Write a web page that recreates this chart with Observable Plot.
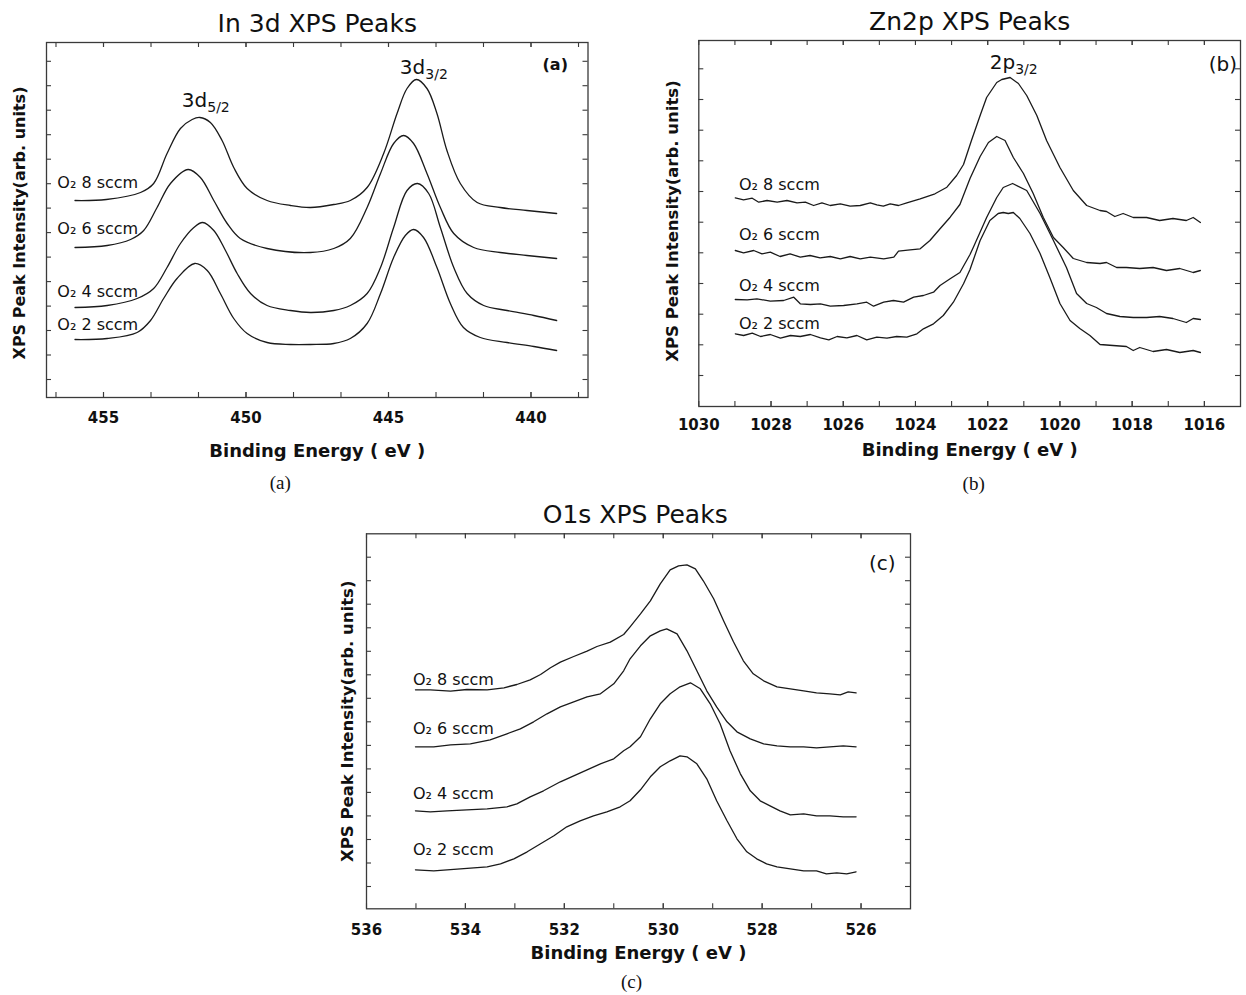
<!DOCTYPE html>
<html><head><meta charset="utf-8">
<script src="https://cdn.jsdelivr.net/npm/d3@7"></script>
<script src="https://cdn.jsdelivr.net/npm/@observablehq/plot@0.6"></script>
<style>
html,body{margin:0;padding:0;background:#fff;}
#wrap{position:relative;width:1246px;height:995px;overflow:hidden;background:#fff;}
#wrap svg{position:absolute;overflow:visible;}
</style></head><body><div id="wrap"></div>
<script>
// ---------- (a) In 3d : [binding energy eV, intensity arb.] ----------
const in3d_8 = [[456.0,197],[454.9,198],[453.7,205],[453.24,214],[452.77,244],[452.3,269],[451.89,278],[451.62,280],[451.25,275],[450.84,257],[450.43,230],[449.96,209],[449.26,197],[448.44,192],[447.74,190],[446.92,193],[446.34,197],[445.75,210],[445.17,244],[444.7,284],[444.35,309],[444.02,318],[443.65,309],[443.3,284],[442.95,247],[442.48,214],[441.89,195],[441.08,190],[440.14,187],[439.1,184]];
const in3d_6 = [[456.0,150],[454.87,152],[454.05,158],[453.59,167],[453.12,190],[452.65,214],[452.03,228],[451.6,220],[451.13,197],[450.66,174],[450.2,159],[449.26,149],[447.74,145],[446.92,149],[446.34,159],[445.75,190],[445.28,224],[444.82,254],[444.47,262],[444.12,254],[443.65,224],[443.18,190],[442.71,164],[442.01,150],[441.08,145],[440.14,142],[439.1,139]];
const in3d_4 = [[456.0,90],[454.87,92],[453.82,99],[453.24,109],[452.77,130],[452.3,154],[451.83,170],[451.52,175],[451.13,167],[450.72,147],[450.31,124],[449.84,104],[449.26,92],[448.44,87],[447.74,85],[446.92,87],[446.34,92],[445.75,104],[445.28,130],[444.82,170],[444.35,207],[443.98,214],[443.59,204],[443.18,170],[442.71,130],[442.24,104],[441.66,92],[440.84,87],[439.9,82],[439.1,77]];
const in3d_2 = [[456.0,58],[454.87,59],[453.82,65],[453.35,77],[452.89,99],[452.42,119],[451.8,134],[451.36,127],[450.9,104],[450.43,79],[449.96,64],[449.26,55],[448.44,53],[447.74,53],[446.92,54],[446.34,59],[445.75,74],[445.28,104],[444.82,140],[444.41,162],[444.12,168],[443.77,160],[443.3,130],[442.83,94],[442.37,70],[441.78,60],[440.84,55],[439.9,51],[439.1,47]];
const inXTicks = [456.667,455,453.333,451.667,450,448.333,446.667,445,443.333,441.667,440,438.333];
const inXLabels = [455,450,445,440];
const inYTicks = [18,42.5,67,91.4,115.9,140.4,164.9,189.4,213.8,238.3,262.8,287.3,311.8,336.2];

// ---------- (b) Zn 2p ----------
const zn2p_8 = [[1028.99,208.7],[1028.76,206.7],[1028.52,208.3],[1028.34,204.3],[1028.11,206],[1027.83,204.3],[1027.56,206],[1027.28,203.7],[1027.05,204.3],[1026.82,201],[1026.59,203.7],[1026.36,201],[1026.08,202.7],[1025.81,200.3],[1025.53,201],[1025.25,203.7],[1025.07,201.7],[1024.89,200.3],[1024.7,202.7],[1024.47,201],[1024.24,203.7],[1023.87,207.7],[1023.46,212.7],[1023.13,219.3],[1022.86,231],[1022.67,242],[1022.45,266],[1022.2,292],[1022.03,309],[1021.75,324],[1021.61,327],[1021.38,329],[1021.15,323],[1020.92,311],[1020.64,291],[1020.37,266],[1020.0,239],[1019.63,216],[1019.26,201],[1018.89,196],[1018.71,195],[1018.48,190],[1018.25,193],[1017.97,189],[1017.6,189],[1017.24,186],[1016.87,188],[1016.5,186],[1016.31,189],[1016.11,184]];
const zn2p_6 = [[1028.99,156],[1028.76,153.7],[1028.48,156],[1028.25,152.7],[1028.02,154.3],[1027.75,150],[1027.47,152.7],[1027.19,149.3],[1026.92,151],[1026.64,148.7],[1026.36,150],[1026.08,147.7],[1025.81,150],[1025.53,147.7],[1025.25,149.3],[1024.88,147.7],[1024.6,149.3],[1024.47,155.3],[1024.15,156.7],[1023.87,157.7],[1023.6,166],[1023.32,177.7],[1023.04,189.3],[1022.77,202],[1022.49,228],[1022.21,250],[1021.98,264],[1021.75,270],[1021.52,266],[1021.29,249],[1021.01,233],[1020.74,213],[1020.46,189],[1020.18,169],[1019.91,159],[1019.63,148],[1019.26,144],[1018.89,143],[1018.71,144],[1018.43,139],[1018.16,139],[1017.79,138],[1017.42,139],[1017.05,136],[1016.68,138],[1016.31,134],[1016.11,136]];
const zn2p_4 = [[1028.99,107],[1028.66,106.7],[1028.39,107.7],[1028.02,105.3],[1027.65,106],[1027.37,109.3],[1027.19,102.7],[1026.91,102],[1026.63,102.7],[1026.36,100.3],[1025.99,101],[1025.62,102.7],[1025.35,104.3],[1025.16,100.3],[1024.88,104.3],[1024.61,106],[1024.33,104.3],[1024.05,109.3],[1023.78,111],[1023.5,114.3],[1023.32,121],[1023.04,127.7],[1022.77,134],[1022.49,152],[1022.4,159],[1022.03,189],[1021.75,209],[1021.57,219],[1021.31,223],[1020.92,216],[1020.55,193],[1020.18,166],[1019.82,139],[1019.54,113],[1019.26,103],[1018.99,99],[1018.71,93],[1018.34,90],[1017.97,89],[1017.6,89],[1017.24,90],[1016.87,88],[1016.5,84],[1016.31,88],[1016.11,87]];
const zn2p_2 = [[1028.99,72.7],[1028.76,71],[1028.52,73.3],[1028.29,70],[1028.02,72],[1027.74,68.3],[1027.46,71],[1027.19,70],[1026.91,72],[1026.63,68.7],[1026.4,66.7],[1026.17,70],[1025.9,68.7],[1025.62,71],[1025.35,66.7],[1025.07,69.3],[1024.79,68.3],[1024.52,70],[1024.24,69.3],[1023.96,72.7],[1023.78,77.7],[1023.5,82.7],[1023.23,91],[1022.95,104.3],[1022.67,122.7],[1022.49,137],[1022.21,166],[1021.94,186],[1021.71,193],[1021.57,194],[1021.43,193],[1021.29,194],[1021.11,188],[1020.83,173],[1020.55,153],[1020.28,129],[1020.0,103],[1019.72,86],[1019.45,78],[1019.17,71],[1018.89,62],[1018.53,61],[1018.16,60],[1017.97,56],[1017.79,59],[1017.42,55],[1017.05,57],[1016.68,54],[1016.31,56],[1016.11,54]];
const znXTicks = [1029,1028,1027,1026,1025,1024,1023,1022,1021,1020,1019,1018,1017,1016];
const znXLabels = [1030,1028,1026,1024,1022,1020,1018,1016];
const znYTicks = [31,61.7,92.3,123,153.7,184.3,215,245.7,276.3,307,337.7];

// ---------- (c) O 1s ----------
const o1s_8 = [[535.01,219],[534.71,219],[534.3,217.7],[533.97,219.3],[533.56,219],[533.22,221],[532.96,224.3],[532.69,229],[532.48,234.3],[532.28,241],[532.08,246.7],[531.81,252.3],[531.54,257.7],[531.34,262.3],[531.07,266.7],[530.8,274.3],[530.67,282],[530.46,295],[530.26,308],[530.06,325],[529.86,339],[529.69,343],[529.52,344],[529.35,340],[529.19,328],[528.98,310],[528.78,288],[528.58,267],[528.38,248],[528.18,235],[527.97,228],[527.7,222],[527.43,220],[527.16,218],[526.9,216],[526.63,215],[526.42,214],[526.26,217],[526.1,216]];
const o1s_6 = [[535.01,162],[534.64,162],[534.3,164],[533.9,165],[533.5,169],[533.16,175],[532.89,180],[532.62,187],[532.35,195],[532.08,202],[531.81,207],[531.54,212],[531.27,215],[531.0,225],[530.8,238],[530.67,250],[530.46,263],[530.26,273],[530.06,278],[529.93,280],[529.72,275],[529.52,258],[529.32,238],[529.12,218],[528.92,202],[528.71,187],[528.51,177],[528.24,170],[527.97,165],[527.7,163],[527.43,162],[527.16,162],[526.9,161],[526.63,162],[526.36,163],[526.1,162]];
const o1s_4 = [[535.01,98],[534.71,97],[534.37,98],[533.97,99],[533.56,100],[533.16,102],[532.96,105],[532.69,112],[532.42,118],[532.08,127],[531.81,133],[531.54,139],[531.27,145],[531.0,150],[530.8,158],[530.67,162],[530.46,172],[530.26,190],[530.06,205],[529.86,215],[529.66,222],[529.45,226],[529.25,220],[529.05,205],[528.85,185],[528.65,158],[528.44,135],[528.24,118],[528.04,108],[527.84,103],[527.64,98],[527.43,94],[527.16,95],[526.9,93],[526.63,93],[526.36,92],[526.1,92]];
const o1s_2 = [[535.01,39],[534.64,38],[534.1,40],[533.56,42],[533.29,45],[533.02,50],[532.75,57],[532.48,65],[532.21,73],[531.95,82],[531.68,88],[531.41,93],[531.14,97],[530.87,102],[530.67,108],[530.46,119],[530.26,132],[530.06,142],[529.86,148],[529.66,153],[529.52,152],[529.32,145],[529.12,130],[528.92,108],[528.71,88],[528.51,70],[528.31,57],[528.11,50],[527.91,45],[527.7,42],[527.43,40],[527.16,38],[526.9,38],[526.7,35],[526.49,36],[526.29,35],[526.1,37]];
const oXTicks = [535,534,533,532,531,530,529,528,527,526];
const oXLabels = [536,534,532,530,528,526];
const oYTicks = [22.3,45.8,69.3,92.9,116.4,139.9,163.4,187,210.5,234,257.5,281,304.6,328.1,351.6];

// ---------- labels ----------
const seriesNames = ["O\u2082 8 sccm","O\u2082 6 sccm","O\u2082 4 sccm","O\u2082 2 sccm"];
const inLabelPos = [[456.62,215],[456.62,169],[456.62,106],[456.62,73]];
const znLabelPos = [[1028.89,222],[1028.89,172],[1028.89,121],[1028.89,83]];
const oLabelPos  = [[535.06,229],[535.06,180],[535.06,115],[535.06,59]];
const inPeaks = [{E:451.36, I:297, main:"3d", sub:"5/2"},{E:443.71, I:330, main:"3d", sub:"3/2"}];
const znPeaks = [{E:1021.24, I:344, main:"2p", sub:"3/2"}];

const FONT = "DejaVu Sans";
const INK = "#111";
const LINE = "#1a1a1a";
const FRAME = "#3a3a3a";
const yTitle = "XPS Peak Intensity(arb. units)";
const xTitle = "Binding Energy ( eV )";

function drawPanel(p) {
  const innerW = p.width - p.ml - p.mr;
  const innerH = p.height - p.mt - p.mb;
  const rows = p.series.flatMap((pts, i) => pts.map(([E, I]) => ({E, I, series: seriesNames[i]})));
  const labels = p.labelPos.map(([E, I], i) => ({E, I, text: seriesNames[i]}));
  const L = 5;
  const ctr = {textAnchor: "middle", lineAnchor: "middle", fontFamily: FONT, fill: INK};
  const marks = [
    Plot.frame({stroke: FRAME, strokeWidth: 1.3}),
    Plot.tickX(p.xTicks.concat(p.xLabels), {x: d => d, insetTop: innerH - L, stroke: FRAME, strokeWidth: 1.1}),
    Plot.tickX(p.xTicks.concat(p.xLabels), {x: d => d, insetBottom: innerH - L, stroke: FRAME, strokeWidth: 1.1}),
    Plot.tickY(p.yTicks, {y: d => d, insetRight: innerW - L, stroke: FRAME, strokeWidth: 1.1}),
    Plot.tickY(p.yTicks, {y: d => d, insetLeft: innerW - L, stroke: FRAME, strokeWidth: 1.1}),
    Plot.axisX(p.xLabels, {anchor: "bottom", tickSize: 0, tickPadding: p.tickPad, fontSize: 15, fontWeight: "bold", fontFamily: FONT, fill: INK, tickFormat: d => String(d), label: null}),
    Plot.line(rows, {x: "E", y: "I", z: "series", stroke: LINE, strokeWidth: 1.3, curve: p.curve}),
    Plot.text(labels, {x: "E", y: "I", text: "text", textAnchor: "start", fontSize: 16, fontFamily: FONT, fill: INK}),
    Plot.text(p.peaks, {x: "E", y: "I", text: "main", textAnchor: "end", fontSize: 20, fontFamily: FONT, fill: INK}),
    Plot.text(p.peaks, {x: "E", y: "I", text: "sub", textAnchor: "start", fontSize: 14, dy: 7, fontFamily: FONT, fill: INK}),
    Plot.text([p.tag], {x: p.tagE, y: p.tagI, text: d => d, fontSize: p.tagSize, fontWeight: p.tagWeight, fontFamily: FONT, fill: INK}),
    Plot.text([p.title], {...ctr, frameAnchor: "top", dx: p.titleDx, dy: p.titleDy, text: d => d, fontSize: 25}),
    Plot.text([xTitle], {...ctr, frameAnchor: "bottom", dy: p.xTitleDy, text: d => d, fontSize: 18, fontWeight: "bold"}),
    Plot.text([yTitle], {...ctr, frameAnchor: "left", rotate: -90, dx: p.yTitleDx, dy: p.yTitleDy, text: d => d, fontSize: p.yTitleSize, fontWeight: "bold"}),
    Plot.text([p.caption], {...ctr, frameAnchor: "bottom", dx: p.capDx, dy: p.capDy, text: d => d, fontSize: 19, fontFamily: "Liberation Serif"})
  ];
  const svg = Plot.plot({
    width: p.width, height: p.height,
    marginLeft: p.ml, marginRight: p.mr, marginTop: p.mt, marginBottom: p.mb,
    x: {domain: p.xDomain},
    y: {domain: p.yDomain, axis: null},
    style: {fontFamily: FONT, background: "transparent", color: INK},
    marks
  });
  svg.style.left = p.left + "px";
  svg.style.top = p.top + "px";
  document.getElementById("wrap").appendChild(svg);
}

drawPanel({
  left: 0, top: 0, width: 615, height: 495, ml: 46, mr: 27.5, mt: 42, mb: 98,
  xDomain: [457, 438], yDomain: [0, 355],
  series: [in3d_8, in3d_6, in3d_4, in3d_2], labelPos: inLabelPos, peaks: inPeaks,
  xTicks: inXTicks, xLabels: inXLabels, yTicks: inYTicks, tickPad: 15,
  tag: "(a)", tagE: 439.15, tagI: 333, tagSize: 16, tagWeight: "bold",
  title: "In 3d XPS Peaks", titleDx: 0, titleDy: -19,
  xTitleDy: 54, yTitleDx: -26.5, yTitleDy: 3, yTitleSize: 16,
  caption: "(a)", capDx: -37, capDy: 85, curve: "catmull-rom"
});
drawPanel({
  left: 620, top: 0, width: 626, height: 495, ml: 78.3, mr: 6, mt: 40, mb: 89,
  xDomain: [1030, 1015], yDomain: [0, 366],
  series: [zn2p_8, zn2p_6, zn2p_4, zn2p_2], labelPos: znLabelPos, peaks: znPeaks,
  xTicks: znXTicks, xLabels: znXLabels, yTicks: znYTicks, tickPad: 13,
  tag: "(b)", tagE: 1015.49, tagI: 342, tagSize: 20, tagWeight: "normal",
  title: "Zn2p XPS Peaks", titleDx: 0, titleDy: -19,
  xTitleDy: 43.5, yTitleDx: -25.7, yTitleDy: -2.5, yTitleSize: 16.5,
  caption: "(b)", capDx: 4, capDy: 77, curve: "linear"
});
drawPanel({
  left: 320, top: 490, width: 620, height: 505, ml: 46, mr: 30, mt: 43.3, mb: 86.7,
  xDomain: [536, 525], yDomain: [0, 375],
  series: [o1s_8, o1s_6, o1s_4, o1s_2], labelPos: oLabelPos, peaks: [],
  xTicks: oXTicks, xLabels: oXLabels, yTicks: oYTicks, tickPad: 16,
  tag: "(c)", tagE: 525.57, tagI: 345, tagSize: 20, tagWeight: "normal",
  title: "O1s XPS Peaks", titleDx: -3.3, titleDy: -19.3,
  xTitleDy: 44.5, yTitleDx: -19, yTitleDy: 0, yTitleSize: 16.5,
  caption: "(c)", capDx: -7, capDy: 73, curve: "linear"
});
</script></body></html>
